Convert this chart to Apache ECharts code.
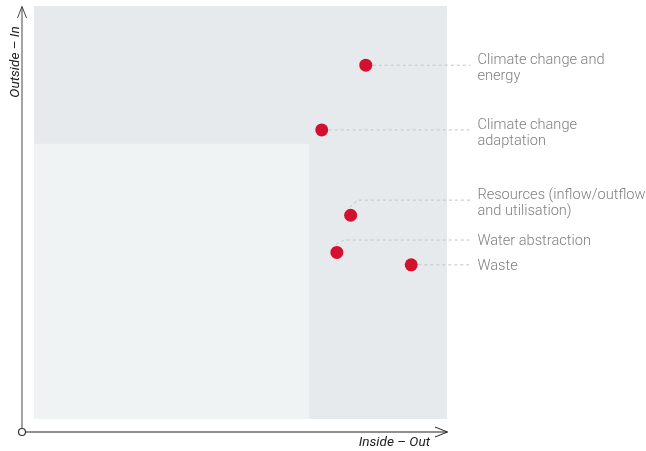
<!DOCTYPE html>
<html>
<head>
<meta charset="utf-8">
<script src="https://cdn.jsdelivr.net/npm/echarts@6/dist/echarts.min.js"></script>
<style>
  html, body { margin: 0; padding: 0; background: #fff; }
  #chart { width: 646px; height: 451px; }
</style>
</head>
<body>
<div id="chart"></div>
<script>
// materiality matrix: topics, inside-out impact (x), outside-in impact (y)
const topics = [
  'Climate change and\nenergy',
  'Climate change\nadaptation',
  'Resources (inflow/outflow\nand utilisation)',
  'Water abstraction',
  'Waste'
];
const insideOut = [2.41, 2.09, 2.30, 2.20, 2.74];
const outsideIn = [2.57, 2.10, 1.48, 1.21, 1.12];
// level where each leader line runs to its label
const labelLevel = [2.57, 2.10, 1.59, 1.30, 1.12];
const axisMax = 3;
const threshold = 2;
const labelEnd = 3.17;

const dotColor = '#d3112f';
const lightBg = '#f0f3f4';
const darkBg = '#e6eaed';

const chart = echarts.init(document.getElementById('chart'));

chart.setOption({
  animation: false,
  grid: {
    left: 34, top: 6, width: 413, height: 413,
    show: true, backgroundColor: darkBg, borderWidth: 0
  },
  xAxis: { type: 'value', min: 0, max: axisMax, show: false },
  yAxis: { type: 'value', min: 0, max: axisMax, show: false },
  series: [
    {
      type: 'scatter',
      data: [],
      silent: true,
      markArea: {
        silent: true,
        itemStyle: { color: lightBg },
        data: [[{ coord: [0, 0] }, { coord: [threshold, threshold] }]]
      }
    },
    {
      type: 'custom',
      z: 3,
      clip: false,
      data: insideOut.map((x, i) => [x, outsideIn[i], labelLevel[i]]),
      renderItem: function (params, api) {
        const p = api.coord([api.value(0), api.value(1)]);
        const lv = api.coord([api.value(0), api.value(2)]);
        const end = api.coord([labelEnd, api.value(2)]);
        let pts;
        if (Math.abs(lv[1] - p[1]) < 2) {
          pts = [[p[0] + 7, lv[1]], [end[0], lv[1]]];
        } else {
          pts = [[p[0] - 1, p[1] - 8], [p[0] + 7, lv[1]], [end[0], lv[1]]];
        }
        const txt = topics[params.dataIndex];
        const multi = txt.indexOf('\n') >= 0;
        return {
          type: 'group',
          children: [
            {
              type: 'polyline',
              shape: { points: pts },
              style: { stroke: '#bcc6cf', lineWidth: 1, lineDash: [3, 3], fill: null }
            },
            {
              type: 'text',
              x: end[0] + 7,
              y: multi ? lv[1] - 13 : lv[1] + 1.5,
              style: {
                text: txt,
                fill: '#808080',
                font: '300 14.6px Roboto',
                lineHeight: 16,
                align: 'left',
                verticalAlign: multi ? 'top' : 'middle'
              }
            }
          ]
        };
      }
    },
    {
      type: 'scatter',
      z: 4,
      symbolSize: 13,
      itemStyle: { color: dotColor, opacity: 1 },
      data: insideOut.map((x, i) => [x, outsideIn[i]])
    }
  ],
  graphic: [
    { type: 'line', shape: { x1: 22, y1: 432, x2: 22, y2: 6.5 }, style: { stroke: '#666', lineWidth: 1.2 } },
    { type: 'polyline', shape: { points: [[17.5, 18], [22, 6.5], [26.5, 18]] }, style: { stroke: '#444', lineWidth: 1, fill: null } },
    { type: 'line', shape: { x1: 22, y1: 432, x2: 447.5, y2: 432 }, style: { stroke: '#222', lineWidth: 1.2 } },
    { type: 'polyline', shape: { points: [[435, 427], [447.5, 432], [435, 437]] }, style: { stroke: '#222', lineWidth: 1, fill: null } },
    { type: 'circle', shape: { cx: 22, cy: 432, r: 3.5 }, style: { fill: '#fff', stroke: '#333', lineWidth: 1.2 }, z: 10 },
    {
      type: 'text', x: 16, y: 62, rotation: Math.PI / 2,
      style: { text: 'Outside – In', font: 'italic 13.6px Roboto', fill: '#222', align: 'center', verticalAlign: 'middle' }
    },
    {
      type: 'text', x: 430, y: 443,
      style: { text: 'Inside – Out', font: 'italic 13.6px Roboto', fill: '#222', align: 'right', verticalAlign: 'middle' }
    }
  ]
});
</script>
</body>
</html>
